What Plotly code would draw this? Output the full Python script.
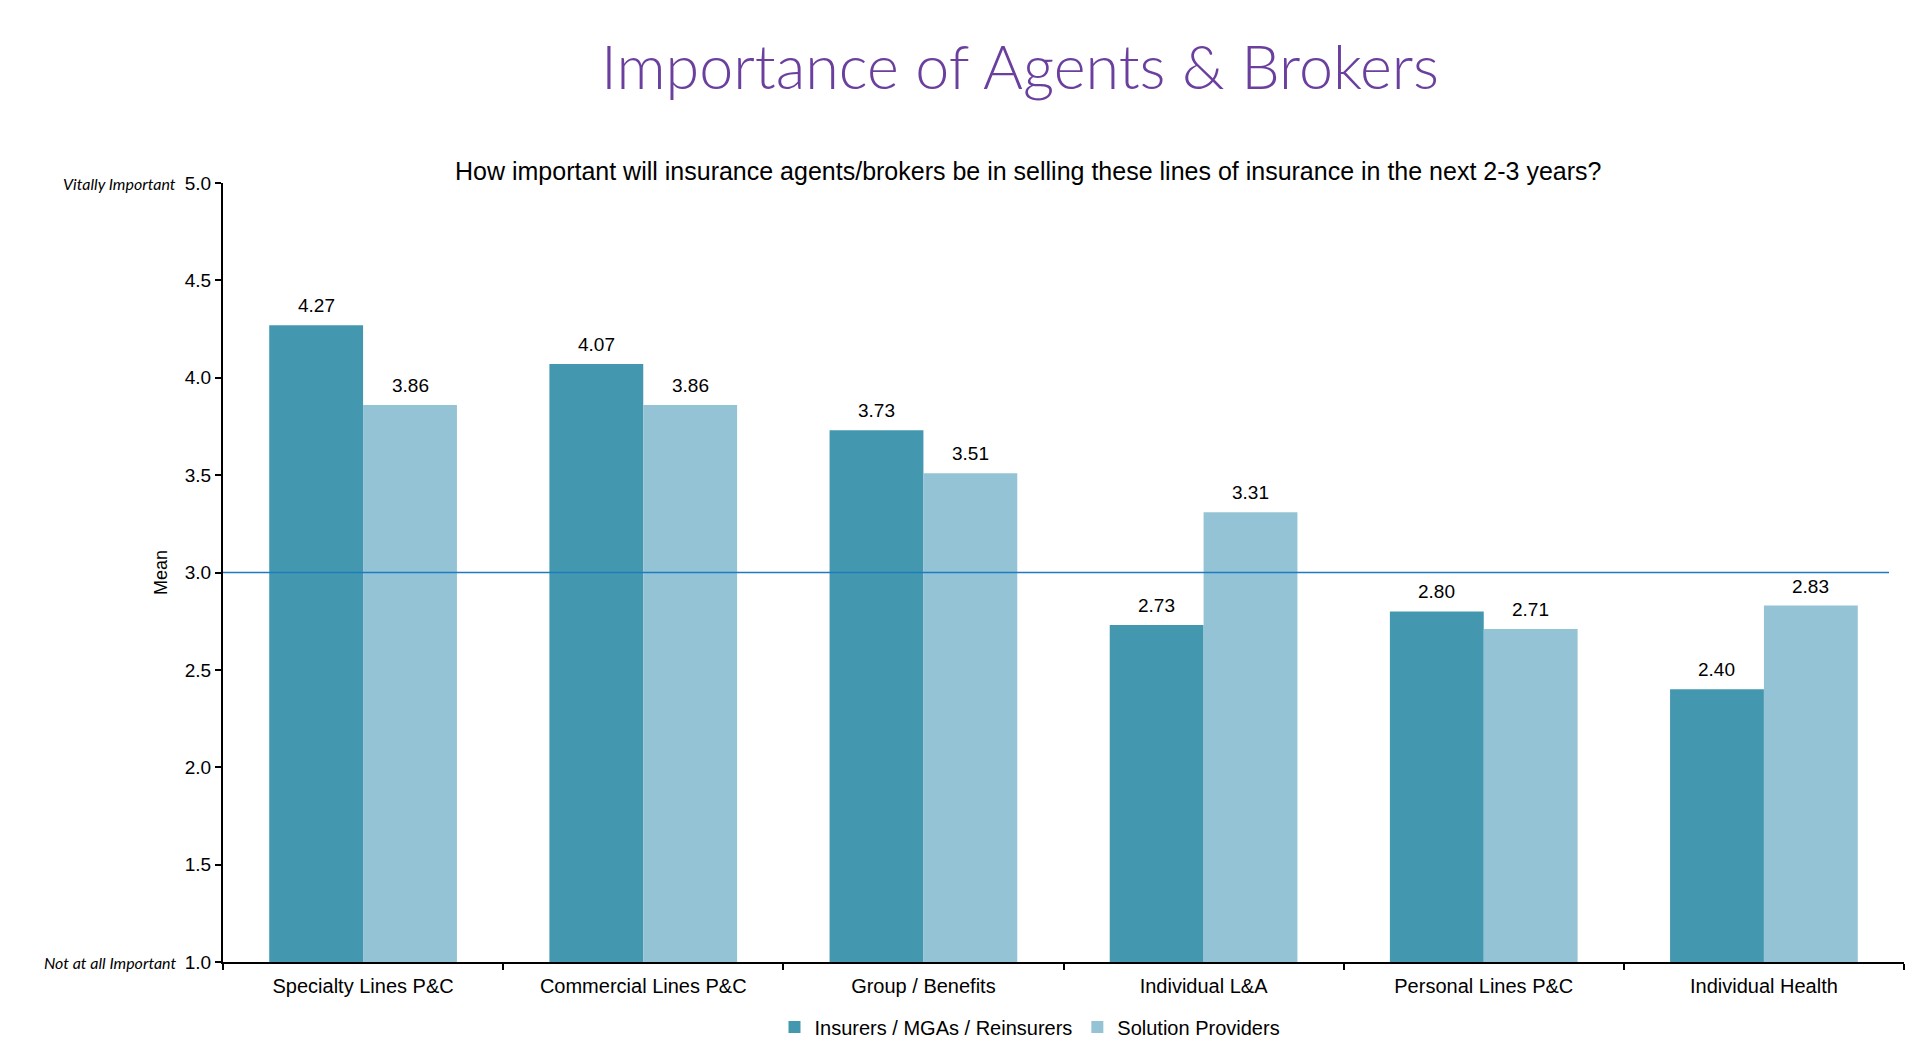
import plotly.graph_objects as go

categories = ["Specialty Lines P&C", "Commercial Lines P&C", "Group / Benefits",
              "Individual L&A", "Personal Lines P&C", "Individual Health"]
insurers = [4.27, 4.07, 3.73, 2.73, 2.80, 2.40]
providers = [3.86, 3.86, 3.51, 3.31, 2.71, 2.83]
series_names = ["Insurers / MGAs / Reinsurers", "Solution Providers"]
y_ticks = [1.0, 1.5, 2.0, 2.5, 3.0, 3.5, 4.0, 4.5, 5.0]
reference_value = 3.0

# page has an 8px body margin; figure coords = page coords - 8
OFF = 8
W, H = 1928 - 2 * OFF, 1059 - 2 * OFF
ML, MT = 223 - OFF, 183 - OFF
MR = W - (1904 - OFF)
MB = H - (962 - OFF)
plot_w = W - ML - MR
plot_h = H - MT - MB
cat_w = plot_w / len(categories)
bargap = 0.33
bar_w_px = cat_w * (1 - bargap) / 2

C1 = "#4398B0"
C2 = "#94C3D5"
FONT = "Liberation Sans, Arial, sans-serif"

fig = go.Figure()
fig.add_trace(go.Bar(x=categories, y=insurers, name=series_names[0],
                     marker=dict(color=C1, line=dict(width=0))))
fig.add_trace(go.Bar(x=categories, y=providers, name=series_names[1],
                     marker=dict(color=C2, line=dict(width=0))))

annotations = []
for vals, sign in ((insurers, -1), (providers, 1)):
    for c, v in zip(categories, vals):
        annotations.append(dict(x=c, y=v, xref="x", yref="y", text=f"{v:.2f}",
                                showarrow=False, xshift=sign * bar_w_px / 2,
                                yanchor="bottom", yshift=7,
                                font=dict(family=FONT, size=19, color="#000000")))

lab_x = (178 - OFF - ML) / plot_w
annotations.append(dict(x=lab_x, y=5.0, xref="paper", yref="y",
                        text="<i>Vitally Important</i>", showarrow=False,
                        xanchor="right", yanchor="middle",
                        font=dict(family="Lato, sans-serif", size=16, color="#000000")))
annotations.append(dict(x=lab_x, y=1.0, xref="paper", yref="y",
                        text="<i>Not at all Important</i>", showarrow=False,
                        xanchor="right", yanchor="middle",
                        font=dict(family="Lato, sans-serif", size=16, color="#000000")))
annotations.append(dict(x=(1028 - OFF - ML) / plot_w, y=1 + (183 - 171) / plot_h,
                        xref="paper", yref="paper",
                        text="How important will insurance agents/brokers be in selling these lines of insurance in the next 2-3 years?",
                        showarrow=False, xanchor="center", yanchor="middle",
                        font=dict(family=FONT, size=25, color="#000000")))

fig.add_shape(type="line", xref="paper", yref="y", x0=0, x1=(1889 - OFF - ML) / plot_w,
              y0=reference_value, y1=reference_value,
              line=dict(color="#1F7BC0", width=1.3))

fig.update_layout(
    width=W, height=H,
    margin=dict(l=ML, r=MR, t=MT, b=MB, autoexpand=False),
    paper_bgcolor="white", plot_bgcolor="white",
    barmode="group", bargap=bargap, bargroupgap=0,
    title=dict(text="Importance of Agents & Brokers", x=(1020 - OFF) / W, xanchor="center",
               y=1 - (68 - OFF) / H, yanchor="middle", yref="container",
               font=dict(family="Lato, sans-serif", size=61, color="#6A3F9E", weight=300)),
    showlegend=True,
    legend=dict(orientation="h", x=(1030 - OFF - ML) / plot_w, xref="paper", xanchor="center",
                y=-(1027 - 962) / plot_h, yanchor="middle",
                font=dict(family=FONT, size=20, color="#000000"),
                itemwidth=30, tracegroupgap=0),
    annotations=annotations,
    xaxis=dict(showline=True, linecolor="#000000", linewidth=2,
               ticks="outside", tickson="boundaries", ticklen=6, tickcolor="#000000",
               tickwidth=2, showgrid=False, ticklabelstandoff=5,
               tickfont=dict(family=FONT, size=20, color="#000000")),
    yaxis=dict(range=[1.0, 5.0], tickvals=y_ticks,
               ticktext=[f"{t:.1f}" for t in y_ticks],
               showline=True, linecolor="#000000", linewidth=2,
               ticks="outside", ticklen=6, tickcolor="#000000", tickwidth=2,
               showgrid=False, zeroline=False,
               title=dict(text="Mean", standoff=12,
                          font=dict(family=FONT, size=18, color="#000000")),
               tickfont=dict(family=FONT, size=19, color="#000000")),
)

fig.write_html("out.html")
